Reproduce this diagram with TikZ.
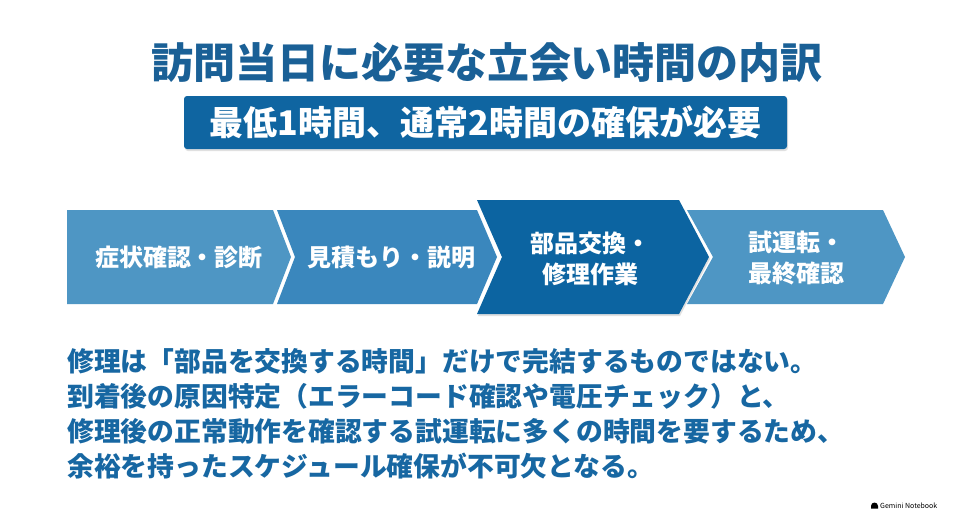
\documentclass[tikz,border=0pt]{standalone}
\usepackage{fontspec}
\setmainfont{Noto Sans CJK JP}
\usepackage{tikz}
\usetikzlibrary{shadows}
\definecolor{titleblue}{HTML}{1A6096}
\definecolor{boxblue}{HTML}{0F65A1}
\definecolor{stepa}{HTML}{4E96C4}
\definecolor{stepb}{HTML}{3A87BD}
\definecolor{stepc}{HTML}{0C64A1}
\definecolor{bodyblue}{HTML}{1767A2}

\begin{document}
\begin{tikzpicture}[x=1pt, y=-1pt,
    titletext/.style={font=\bfseries\fontsize{42}{48}\selectfont, text=titleblue,
      anchor=base, inner sep=0pt},
    subbox/.style={rectangle, rounded corners=3pt, fill=boxblue},
    subtext/.style={font=\bfseries\fontsize{34}{40}\selectfont, text=white,
      anchor=base, inner sep=0pt},
    stagelabel/.style={font=\bfseries\fontsize{24}{31}\selectfont, text=white,
      align=center, anchor=base, inner sep=0pt},
    bodytext/.style={font=\bfseries\fontsize{26.8}{35}\selectfont, text=bodyblue,
      align=left, anchor=base west, inner sep=0pt},
    softshadow/.style={drop shadow={shadow xshift=1pt, shadow yshift=-2pt,
      opacity=0.2, fill=black!60}},
  ]
  \useasboundingbox[fill=white] (0,0) rectangle (962,520);

  % =================== HEADER ===================
  \node[titletext] (title) at (487,78) {訪問当日に必要な立会い時間の内訳};
  \path[subbox, softshadow] (184,96) rectangle (787,149);
  \node[subtext] (sub) at (485.5,135) {最低1時間、通常2時間の確保が必要};

  % =================== STAGES ===================
  % (base of a two-line label = its last line)
  \fill[stepa] (67,210) -- (273,210) -- (291,257) -- (273,304) -- (67,304) -- cycle;
  \node[stagelabel] (diag) at (179,266) {症状確認・診断};

  \fill[stepb] (277,210) -- (477,210) -- (497,257) -- (477,304) -- (277,304)
    -- (295,257) -- cycle;
  \node[stagelabel] (estim) at (391,266) {見積もり・説明};

  \fill[stepa] (687,210) -- (883,210) -- (905,257) -- (883,304) -- (687,304)
    -- (713,257) -- cycle;
  \node[stagelabel] (trial) at (796,282) {試運転・\\最終確認};

  % middle step is raised and darker
  \fill[stepc, softshadow] (477,200) -- (679,200) -- (709,257) -- (679,314)
    -- (477,314) -- (502,257) -- cycle;
  \node[stagelabel] (repair) at (590,283) {部品交換・\\修理作業};

  % =================== NOTE ===================
  \node[bodytext] (note) at (67,476)
    {修理は「部品を交換する時間」だけで完結するものではない。\\
     到着後の原因特定（エラーコード確認や電圧チェック）と、\\
     修理後の正常動作を確認する試運転に多くの時間を要するため、\\
     余裕を持ったスケジュール確保が不可欠となる。};

  % =================== LOGO ===================
  \node[font=\fontsize{7}{8}\selectfont, anchor=west, inner sep=0pt] (logo)
    at (880,506) {Gemini Notebook};
  \fill (871,508.5) -- (871,506) arc[start angle=180, end angle=360, radius=3.5]
    -- (878,508.5) -- cycle;
\end{tikzpicture}
\end{document}
